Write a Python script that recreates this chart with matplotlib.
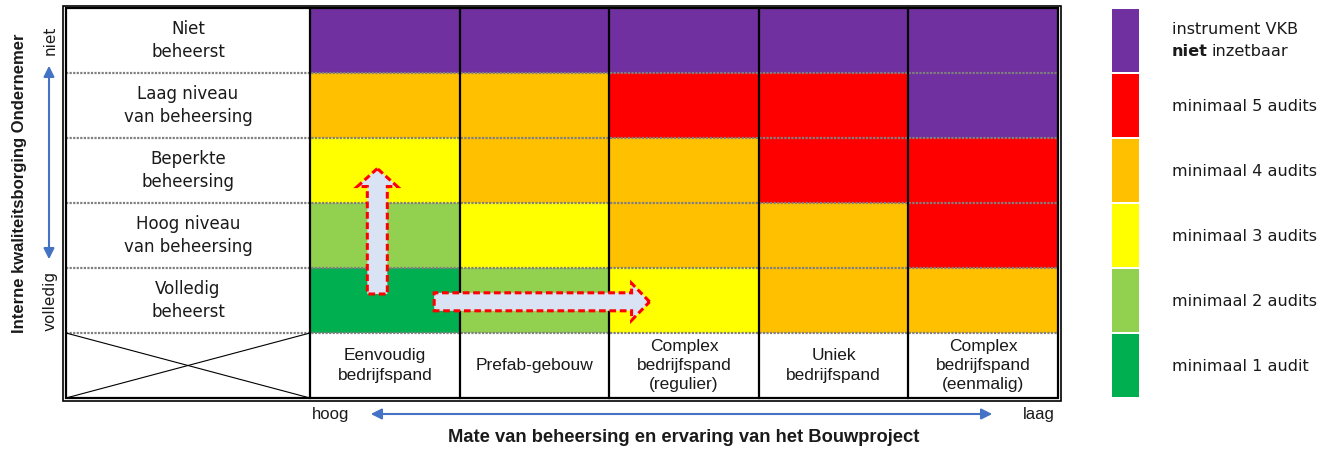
import matplotlib
matplotlib.use("Agg")
import matplotlib.pyplot as plt
from matplotlib import font_manager
from matplotlib.patches import Rectangle, FancyArrow

# --- data ---------------------------------------------------------------
row_labels = ["Niet\nbeheerst", "Laag niveau\nvan beheersing", "Beperkte\nbeheersing",
              "Hoog niveau\nvan beheersing", "Volledig\nbeheerst"]
col_labels = ["Eenvoudig\nbedrijfspand", "Prefab-gebouw", "Complex\nbedrijfspand\n(regulier)",
              "Uniek\nbedrijfspand", "Complex\nbedrijfspand\n(eenmalig)"]
# level: 0 = niet inzetbaar, 5..1 = minimaal n audits
levels = [
    [0, 0, 0, 0, 0],
    [4, 4, 5, 5, 0],
    [3, 4, 4, 5, 5],
    [2, 3, 4, 4, 5],
    [1, 2, 3, 4, 4],
]
legend_levels = [0, 5, 4, 3, 2, 1]
legend_labels = ["", "minimaal 5 audits", "minimaal 4 audits", "minimaal 3 audits",
                 "minimaal 2 audits", "minimaal 1 audit"]
level_colors = {0: "#7030A0", 5: "#FF0000", 4: "#FFC000", 3: "#FFFF00",
                2: "#92D050", 1: "#00B050"}

# --- fonts --------------------------------------------------------------
try:
    font_manager.findfont("Liberation Sans Narrow", fallback_to_default=False)
    narrow = "Liberation Sans Narrow"
except Exception:
    narrow = "Liberation Sans"
wide = "DejaVu Sans"
txt = "#1a1a1a"

# --- layout (pixels) ----------------------------------------------------
x_left, x_grid, col_w = 66, 310, 149.6
y_top, row_h = 8, 65
nrows, ncols = len(row_labels), len(col_labels)
x_right = x_grid + ncols * col_w
y_bot = y_top + (nrows + 1) * row_h

fig = plt.figure(figsize=(13.35, 4.5), dpi=100)
ax = fig.add_axes([0, 0, 1, 1])
ax.set_xlim(0, 1335)
ax.set_ylim(450, 0)
ax.axis("off")


def cx(c):
    return x_grid + c * col_w


def cy(r):
    return y_top + r * row_h


# coloured cells
for r, row in enumerate(levels):
    for c, lev in enumerate(row):
        ax.add_patch(Rectangle((cx(c), cy(r)), col_w, row_h, facecolor=level_colors[lev],
                               edgecolor="none", zorder=1))

# row labels
for r, lab in enumerate(row_labels):
    ax.text((x_left + x_grid) / 2, cy(r) + row_h / 2, lab, ha="center", va="center",
            fontsize=12, family=wide, color=txt, linespacing=1.3)

# column labels
for c, lab in enumerate(col_labels):
    ax.text(cx(c) + col_w / 2, cy(nrows) + row_h / 2, lab, ha="center", va="center",
            fontsize=12.5, family=narrow, color=txt, linespacing=1.35)

# grid lines
for r in range(1, nrows + 1):
    ax.plot([x_left, x_right], [cy(r), cy(r)], color="#808080", lw=1.6, ls=(0, (1, 0.6)), zorder=3)
ax.plot([x_grid, x_grid], [y_top, y_bot], color="black", lw=1.6, zorder=3)
for c in range(1, ncols):
    ax.plot([cx(c), cx(c)], [y_top, y_bot], color="black", lw=1.6, zorder=3)
# crossed corner cell
ax.plot([x_left, x_grid], [cy(nrows), y_bot], color="black", lw=0.8, zorder=3)
ax.plot([x_left, x_grid], [y_bot, cy(nrows)], color="black", lw=0.8, zorder=3)
# double outer frame
ax.add_patch(Rectangle((x_left, y_top), x_right - x_left, y_bot - y_top, fill=False,
                       edgecolor="black", lw=1.6, zorder=4))
ax.add_patch(Rectangle((x_left - 3, y_top - 2), x_right - x_left + 6, y_bot - y_top + 5,
                       fill=False, edgecolor="black", lw=1.2, zorder=4))

# dashed arrows inside the matrix
arrow_kw = dict(length_includes_head=True, facecolor="#DAE3F3", edgecolor="#FF0000",
                lw=2.2, ls=(0, (2.2, 1.2)), zorder=5, joinstyle="miter")
ax.add_patch(FancyArrow(cx(0.45), cy(4.4), 0, cy(2.47) - cy(4.4), width=20,
                        head_width=40, head_length=18, **arrow_kw))
ax.add_patch(FancyArrow(cx(0.83), cy(4.52), cx(2.27) - cx(0.83), 0, width=18,
                        head_width=37, head_length=18, **arrow_kw))

# vertical axis annotation
ax.text(20, 183, "Interne kwaliteitsborging Ondernemer", rotation=90,
        ha="center", va="center", fontsize=12, family=narrow, weight="bold", color=txt)
ax.text(50, 40, "niet", rotation=90, ha="center", va="center", fontsize=11,
        family=wide, color=txt)
ax.text(50, 301, "volledig", rotation=90, ha="center", va="center", fontsize=11,
        family=wide, color=txt)
ax.annotate("", xy=(49, 63), xytext=(49, 262),
            arrowprops=dict(arrowstyle="<|-|>", color="#4472C4", lw=1.5, mutation_scale=16))

# horizontal axis annotation
ax.text(331, 414, "hoog", ha="center", va="center", fontsize=12, family=narrow, color=txt)
ax.text(1039, 414, "laag", ha="center", va="center", fontsize=12, family=narrow, color=txt)
ax.annotate("", xy=(368, 414), xytext=(995, 414),
            arrowprops=dict(arrowstyle="<|-|>", color="#4472C4", lw=1.5, mutation_scale=16))
ax.text(684, 438, "Mate van beheersing en ervaring van het Bouwproject",
        ha="center", va="center", fontsize=13.2, family=narrow, weight="bold", color=txt)

# legend
lx, lw_box = 1112, 27
for i, lev in enumerate(legend_levels):
    y = y_top + 1 + i * row_h
    ax.add_patch(Rectangle((lx, y), lw_box, row_h - 2, facecolor=level_colors[lev],
                           edgecolor="none"))
    if legend_labels[i]:
        ax.text(1172, y + row_h / 2, legend_labels[i], ha="left", va="center",
                fontsize=11.6, family=wide, color=txt)
ax.text(1172, 30, "instrument VKB", ha="left", va="center", fontsize=11.6, family=wide, color=txt)
t_bold = ax.text(1172, 51, "niet", ha="left", va="center", fontsize=11.6, family=wide,
                 weight="bold", color=txt)
ax.annotate("inzetbaar", xy=(1, 0), xycoords=t_bold, xytext=(2.5, 0), textcoords="offset points",
            ha="left", va="bottom", fontsize=11.6, family=wide, color=txt)

fig.savefig("out.png", dpi=100)
